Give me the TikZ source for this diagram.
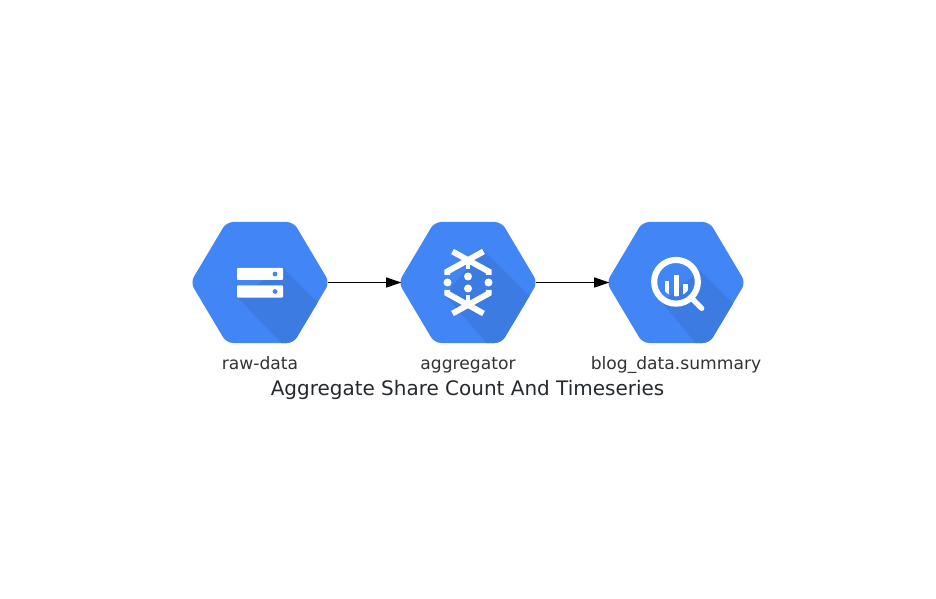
\documentclass[tikz,border=0pt]{standalone}
\usepackage{fontspec}
\setmainfont{DejaVu Sans}
\usetikzlibrary{arrows.meta}
\definecolor{hexblue}{HTML}{4285F4}
\definecolor{hexshade}{HTML}{3B7BE2}
\definecolor{labeltext}{HTML}{333333}
\definecolor{titletext}{HTML}{24292E}
\tikzset{
  hexbox/.style={minimum width=102pt,minimum height=90.75pt,inner sep=0pt,outer sep=0pt},
  lbl/.style={text=labeltext,font=\fontsize{12.85pt}{15pt}\selectfont,inner sep=0pt,anchor=base},
  ttl/.style={text=titletext,font=\fontsize{14.98pt}{18pt}\selectfont,inner sep=0pt,anchor=base},
  conn/.style={draw=black,line width=0.75pt,shorten >=-1.1pt,-{Triangle[length=11.5pt,width=7.5pt]}},
  shade/.style={fill=hexshade,draw=none},
  iconline/.style={draw=white,line width=4.4pt,line cap=butt,line join=miter},
}
\newcommand{\hexpath}{(-69.5,0) -- (-33.5,-60.5) -- (33.5,-60.5) -- (69.5,0) -- (33.5,60.5) -- (-33.5,60.5) -- cycle}
\begin{document}
\begin{tikzpicture}[x=0.75pt,y=-0.75pt]
\useasboundingbox (0,0) rectangle (936,599);
% ---- raw-data
\node[hexbox] (raw) at (260,282.5) {};
\begin{scope}[shift={(raw.center)}]
  \fill[hexblue,rounded corners=5pt] \hexpath;
  \begin{scope}
    \clip[rounded corners=5pt] \hexpath;
    \fill[shade] (23,-14.5) -- (85,47.5) -- (40,80) -- (-23,14.5) -- cycle;
  \end{scope}
  \fill[white,rounded corners=0.6pt] (-23,-14.5) rectangle (23,-2.5);
  \fill[white,rounded corners=0.6pt] (-23,3) rectangle (23,15);
  \fill[hexblue] (15,-8.5) circle (1.8pt);
  \fill[hexblue] (15,9) circle (1.8pt);
\end{scope}
% ---- aggregator
\node[hexbox] (agg) at (468,282.5) {};
\begin{scope}[shift={(agg.center)}]
  \fill[hexblue,rounded corners=5pt] \hexpath;
  \begin{scope}
    \clip[rounded corners=5pt] \hexpath;
    \fill[shade] (15,-33) -- (85,37) -- (40,85) -- (-23,12.5) -- cycle;
  \end{scope}
  \draw[iconline] (-15.5,-31) -- (20.7,-11) -- (20.7,-7.5);
  \draw[iconline] (15.5,-31) -- (-20.7,-11) -- (-20.7,-7.5);
  \draw[iconline] (-15.5,31) -- (20.7,11) -- (20.7,7.5);
  \draw[iconline] (15.5,31) -- (-20.7,11) -- (-20.7,7.5);
  \draw[draw=white,line width=3pt] (0,-22) -- (0,-13);
  \draw[draw=white,line width=3pt] (0,22) -- (0,13);
  \fill[white] (-20.5,0) circle (3pt);
  \fill[white] (20.5,0) circle (3pt);
  \fill[white] (0,-6) circle (3pt);
  \fill[white] (0,6) circle (3pt);
\end{scope}
% ---- blog_data.summary
\node[hexbox] (big) at (676,282.5) {};
\begin{scope}[shift={(big.center)}]
  \fill[hexblue,rounded corners=5pt] \hexpath;
  \begin{scope}
    \clip[rounded corners=5pt] \hexpath;
    \fill[shade] (24,-12) -- (85,49) -- (40,85) -- (-14,20) -- cycle;
  \end{scope}
  \begin{scope}
    \clip (0,-0.7) circle (10.9pt);
    \fill[white] (-11.5,-1.5) rectangle (-7.5,20);
    \fill[white] (-2.2,-7.5) rectangle (2.8,20);
    \fill[white] (7.2,1.5) rectangle (11.8,20);
  \end{scope}
  \draw[white,line width=4.6pt] (0,-0.7) circle (16.4pt);
  \draw[white,line width=4pt,line cap=round] (16,16) -- (25.7,25.8);
\end{scope}
% ---- connectors
\draw[conn] (raw.east) -- (agg.west);
\draw[conn] (agg.east) -- (big.west);
% ---- labels
\node[lbl] (l1) at (260,369) {raw-data};
\node[lbl] (l2) at (468,369) {aggregator};
\node[lbl] (l3) at (676,369) {blog\_data.summary};
\node[ttl] (title) at (467.5,395) {Aggregate Share Count And Timeseries};
\end{tikzpicture}
\end{document}
